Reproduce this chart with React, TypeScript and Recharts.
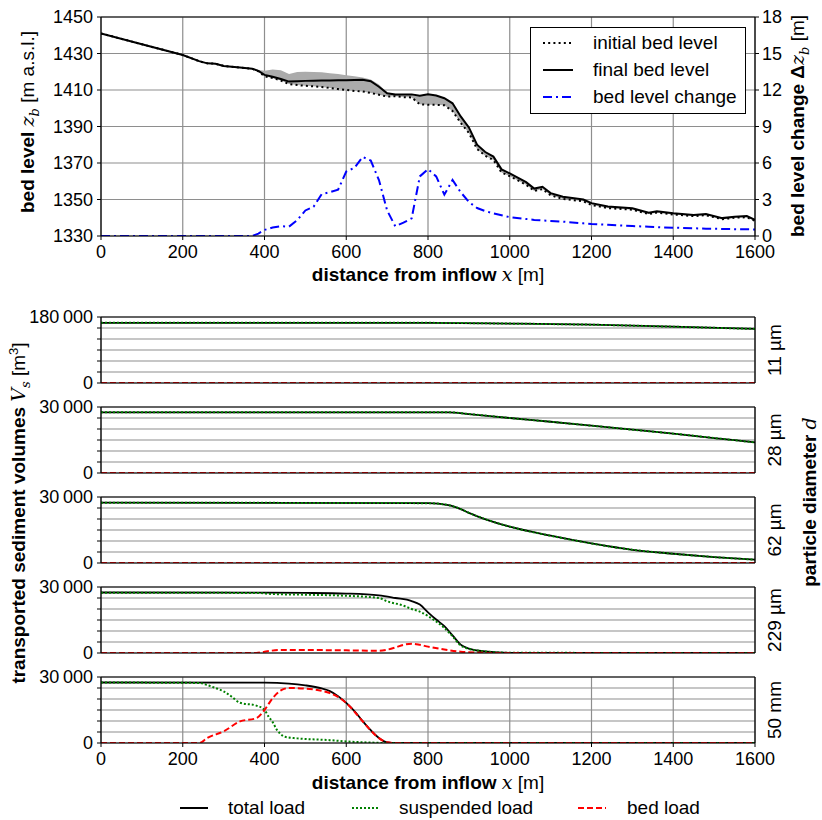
import React from 'react';
import { ComposedChart, Line, Area, XAxis, YAxis, CartesianGrid } from 'recharts';

// ---------- fonts & layout ----------
const SANS = '"Liberation Sans", Arial, Helvetica, sans-serif';
const MATH = '"DejaVu Serif", "Liberation Serif", serif';

const CHART_W = 822;
const PLOT_L = 101;
const PLOT_R = 755;
const Y_AXIS_W = 60;
const X_AXIS_H = 30;
const TOP_AXIS_H = 6;

// ---------- axis ticks ----------
const majorX = [0, 200, 400, 600, 800, 1000, 1200, 1400, 1600];
const minorX = Array.from({ length: 81 }, (_, i) => i * 20);
const bedTicks = [1330, 1350, 1370, 1390, 1410, 1430, 1450];
const changeTicks = [0, 3, 6, 9, 12, 15, 18];

// ---------- longitudinal bed profile ----------
const bedX = [0, 100, 200, 240, 260, 280, 300, 340, 370, 385, 400, 420, 440, 460, 480, 500, 520, 540, 560, 580, 600, 620, 640, 660, 680, 700, 720, 740, 760, 780, 800, 820, 840, 860, 880, 900, 920, 940, 960, 980, 1000, 1040, 1060, 1080, 1100, 1130, 1180, 1200, 1240, 1300, 1340, 1360, 1400, 1450, 1480, 1520, 1550, 1580, 1600];

const initialBed = [1441, 1435.1, 1429.2, 1425.8, 1424.6, 1424.4, 1423.2, 1422.3, 1421.6, 1420.3, 1417.5, 1416.6, 1415.2, 1413.3, 1412.7, 1412.3, 1412.0, 1411.6, 1411.1, 1410.5, 1410.0, 1409.5, 1409.2, 1408.4, 1407.4, 1406.4, 1406.6, 1406.1, 1405.9, 1402.2, 1401.9, 1401.9, 1401.6, 1398.5, 1392.0, 1386.5, 1377.7, 1374.0, 1371.6, 1364.8, 1362.8, 1358.1, 1354.7, 1355.7, 1352.3, 1350.3, 1349.0, 1347.0, 1345.3, 1344.4, 1342.0, 1342.8, 1341.8, 1340.9, 1341.4, 1339.2, 1340.0, 1340.3, 1338.3];

const finalBed = [1441, 1435.1, 1429.2, 1425.8, 1424.6, 1424.4, 1423.2, 1422.3, 1421.6, 1420.5, 1418.3, 1417.3, 1416.0, 1414.6, 1414.8, 1415.0, 1415.1, 1415.2, 1415.2, 1415.3, 1415.4, 1415.5, 1415.6, 1414.8, 1411.8, 1408.2, 1407.5, 1407.6, 1407.6, 1406.9, 1407.6, 1407.0, 1405.5, 1402.7, 1395.5, 1389.5, 1380.0, 1376.0, 1373.5, 1366.5, 1364.3, 1359.5, 1356.0, 1357.0, 1353.5, 1351.5, 1350.0, 1348.0, 1346.2, 1345.2, 1342.8, 1343.5, 1342.5, 1341.5, 1342.0, 1339.8, 1340.6, 1340.9, 1338.8];

// highest bed level reached during the run (upper edge of the grey band)
const peakBed = [1441, 1435.1, 1429.2, 1425.8, 1424.6, 1424.4, 1423.2, 1422.3, 1421.6, 1421.0, 1420.6, 1421.2, 1420.8, 1418.8, 1419.8, 1420.0, 1419.9, 1419.7, 1419.2, 1418.7, 1418.1, 1417.5, 1416.9, 1415.8, 1413.0, 1408.6, 1407.8, 1407.8, 1407.8, 1407.1, 1407.6, 1407.0, 1405.5, 1402.7, 1395.5, 1389.5, 1380.0, 1376.0, 1373.5, 1366.5, 1364.3, 1359.5, 1356.0, 1357.0, 1353.5, 1351.5, 1350.0, 1348.0, 1346.2, 1345.2, 1342.8, 1343.5, 1342.5, 1341.5, 1342.0, 1339.8, 1340.6, 1340.9, 1338.8];

const bedChange = [0, 0, 0, 0, 0, 0, 0, 0, 0, 0.2, 0.5, 0.7, 0.8, 0.77, 1.3, 2.1, 2.4, 3.45, 3.6, 3.8, 5.3, 5.6, 6.5, 6.2, 4.6, 2.1, 0.8, 1.1, 1.45, 4.9, 5.5, 4.9, 3.4, 4.6, 3.6, 2.8, 2.3, 2.05, 1.86, 1.7, 1.55, 1.4, 1.32, 1.28, 1.24, 1.18, 1.04, 0.99, 0.92, 0.82, 0.76, 0.73, 0.68, 0.64, 0.6, 0.58, 0.56, 0.55, 0.54];

// ---------- transported sediment volumes per grain size ----------
// 11 µm
const total11X = [0, 800, 1000, 1200, 1400, 1600];
const total11 = [164000, 164000, 162000, 159000, 153500, 147500];
const susp11X = [0, 800, 1000, 1200, 1400, 1600];
const susp11 = [164000, 164000, 162000, 159000, 153500, 147500];
const bed11X = [0, 1600];
const bed11 = [0, 0];

// 28 µm
const total28X = [0, 850, 900, 1000, 1100, 1200, 1300, 1400, 1500, 1600];
const total28 = [27600, 27600, 26800, 25000, 23300, 21500, 19700, 17900, 15900, 13900];
const susp28X = [0, 850, 900, 1000, 1100, 1200, 1300, 1400, 1500, 1600];
const susp28 = [27600, 27600, 26800, 25000, 23300, 21500, 19700, 17900, 15900, 13900];
const bed28X = [0, 1600];
const bed28 = [0, 0];

// 62 µm
const total62X = [0, 800, 850, 880, 900, 950, 1000, 1100, 1200, 1300, 1400, 1500, 1600];
const total62 = [27400, 27200, 26300, 24500, 22800, 19300, 16500, 12400, 8900, 6000, 4200, 2700, 1500];
const susp62X = [0, 800, 850, 880, 900, 950, 1000, 1100, 1200, 1300, 1400, 1500, 1600];
const susp62 = [27400, 27200, 26300, 24500, 22800, 19300, 16500, 12400, 8900, 6000, 4200, 2700, 1500];
const bed62X = [0, 1600];
const bed62 = [0, 0];

// 229 µm
const total229X = [0, 400, 500, 600, 680, 720, 760, 780, 800, 820, 840, 860, 880, 900, 940, 1000, 1600];
const total229 = [27500, 27400, 27300, 27000, 26200, 25000, 23600, 22000, 18500, 15200, 12200, 8000, 3800, 2000, 700, 100, 0];
const susp229X = [0, 380, 420, 500, 600, 680, 700, 740, 760, 780, 800, 820, 840, 860, 880, 900, 940, 1000, 1600];
const susp229 = [27400, 27300, 26800, 26500, 26000, 25000, 23500, 21500, 20000, 18800, 16800, 14300, 11400, 7600, 3400, 1900, 700, 100, 0];
const bed229X = [0, 380, 400, 440, 600, 680, 700, 720, 740, 760, 780, 800, 840, 880, 920, 960, 1600];
const bed229 = [0, 0, 600, 1400, 1200, 1000, 1500, 2500, 3700, 4200, 3700, 2900, 1600, 600, 150, 0, 0];

// 50 mm
const total50X = [0, 400, 460, 500, 540, 560, 580, 600, 620, 640, 660, 680, 700, 720, 1600];
const total50 = [27500, 27400, 27000, 26200, 24800, 23600, 21300, 18200, 14500, 10000, 5800, 2300, 300, 0, 0];
const susp50X = [0, 240, 260, 280, 300, 320, 340, 380, 400, 410, 420, 430, 440, 450, 480, 560, 600, 660, 700, 1600];
const susp50 = [27500, 27300, 26300, 25000, 23500, 21000, 18300, 17000, 15000, 12000, 9500, 6100, 4000, 2800, 2100, 1300, 700, 200, 0, 0];
const bed50X = [0, 240, 260, 300, 340, 380, 400, 420, 440, 460, 500, 560, 600, 640, 660, 680, 700, 720, 1600];
const bed50 = [0, 0, 2300, 5300, 9800, 11300, 15000, 20400, 23900, 25000, 24700, 22700, 18200, 9900, 5700, 2200, 300, 0, 0];

const panelLabels = ['11 µm', '28 µm', '62 µm', '229 µm', '50 mm'];
const panelMax = [180000, 30000, 30000, 30000, 30000];
const panelTops = [317, 407, 497, 587, 677];
const PANEL_H = 66;

const legendBed = ['initial bed level', 'final bed level', 'bed level change'];
const legendLoad = ['total load', 'suspended load', 'bed load'];

// ---------- styles ----------
const DOTTED = '2 3.2';
const DASHDOT = '9 4 2 4';
const GREEN_DOT = '2 2';
const RED_DASH = '6 3';
const GRID = '#8e8e8e';

const tickFont = { fontFamily: SANS, fontSize: 18, fill: '#000' };

const zip = (xs: number[], ys: number[]) => xs.map((x, i) => ({ x, v: ys[i] }));
const thin = (n: number) => String(n).replace(/\B(?=(\d{3})+(?!\d))/g, '\u2009');

// frame axes along the distance direction: labelled bottom axis, minor ticks, top frame
function distanceAxes(showLabels: boolean) {
  return [
    <XAxis
      key="xb"
      xAxisId="x"
      dataKey="x"
      type="number"
      domain={[0, 1600]}
      allowDataOverflow
      ticks={majorX}
      height={X_AXIS_H}
      tickSize={4}
      tickMargin={5}
      axisLine={{ stroke: '#000', strokeWidth: 1.2 }}
      tickLine={{ stroke: '#000' }}
      tick={showLabels ? tickFont : false}
      interval={0}
    />,
    <XAxis
      key="xbm"
      xAxisId="xbm"
      dataKey="x"
      type="number"
      domain={[0, 1600]}
      allowDataOverflow
      ticks={minorX}
      mirror
      tickSize={2.5}
      axisLine={false}
      tickLine={{ stroke: '#000' }}
      tick={false}
      interval={0}
    />,
    <XAxis
      key="xt"
      xAxisId="xt"
      orientation="top"
      dataKey="x"
      type="number"
      domain={[0, 1600]}
      allowDataOverflow
      ticks={majorX}
      height={TOP_AXIS_H}
      tickSize={4}
      axisLine={{ stroke: '#000', strokeWidth: 1.2 }}
      tickLine={{ stroke: '#000' }}
      tick={false}
      interval={0}
    />,
    <XAxis
      key="xtm"
      xAxisId="xtm"
      orientation="top"
      dataKey="x"
      type="number"
      domain={[0, 1600]}
      allowDataOverflow
      ticks={minorX}
      mirror
      tickSize={2.5}
      axisLine={false}
      tickLine={{ stroke: '#000' }}
      tick={false}
      interval={0}
    />,
  ];
}

function BedLevelChart() {
  const height = 300;
  const data = bedX.map((x, i) => ({
    x,
    initial: initialBed[i],
    final: finalBed[i],
    change: bedChange[i],
    band: [initialBed[i], peakBed[i]],
  }));
  return (
    <ComposedChart
      width={CHART_W}
      height={height}
      data={data}
      margin={{
        top: 17 - TOP_AXIS_H,
        right: CHART_W - PLOT_R - Y_AXIS_W,
        bottom: height - 236 - X_AXIS_H,
        left: PLOT_L - Y_AXIS_W,
      }}
    >
      <CartesianGrid xAxisId="x" yAxisId="left" stroke={GRID} strokeWidth={1.2} />
      {distanceAxes(true)}
      <YAxis
        yAxisId="left"
        type="number"
        domain={[1330, 1450]}
        allowDataOverflow
        ticks={bedTicks}
        width={Y_AXIS_W}
        tickSize={4}
        tickMargin={4}
        axisLine={{ stroke: '#000', strokeWidth: 1.2 }}
        tickLine={{ stroke: '#000' }}
        tick={tickFont}
        interval={0}
      />
      <YAxis
        yAxisId="right"
        orientation="right"
        type="number"
        domain={[0, 18]}
        allowDataOverflow
        ticks={changeTicks}
        width={Y_AXIS_W}
        tickSize={4}
        tickMargin={3}
        axisLine={{ stroke: '#000', strokeWidth: 1.2 }}
        tickLine={{ stroke: '#000' }}
        tick={tickFont}
        interval={0}
      />
      <Area
        xAxisId="x"
        yAxisId="left"
        dataKey="band"
        type="linear"
        fill="#ababab"
        fillOpacity={1}
        stroke="none"
        isAnimationActive={false}
      />
      <Line xAxisId="x" yAxisId="left" dataKey="initial" type="linear" stroke="#000" strokeWidth={2} strokeDasharray={DOTTED} dot={false} isAnimationActive={false} />
      <Line xAxisId="x" yAxisId="left" dataKey="final" type="linear" stroke="#000" strokeWidth={2} dot={false} isAnimationActive={false} />
      <Line xAxisId="x" yAxisId="right" dataKey="change" type="linear" stroke="#0000ff" strokeWidth={2} strokeDasharray={DASHDOT} dot={false} isAnimationActive={false} />
    </ComposedChart>
  );
}

type Series = { total: { x: number }[]; susp: { x: number }[]; bed: { x: number }[] };

const panelSeries: Series[] = [
  { total: zip(total11X, total11), susp: zip(susp11X, susp11), bed: zip(bed11X, bed11) },
  { total: zip(total28X, total28), susp: zip(susp28X, susp28), bed: zip(bed28X, bed28) },
  { total: zip(total62X, total62), susp: zip(susp62X, susp62), bed: zip(bed62X, bed62) },
  { total: zip(total229X, total229), susp: zip(susp229X, susp229), bed: zip(bed229X, bed229) },
  { total: zip(total50X, total50), susp: zip(susp50X, susp50), bed: zip(bed50X, bed50) },
];

const PANEL_PAD = 5;
const PANEL_CHART_H = PANEL_PAD + TOP_AXIS_H + PANEL_H + X_AXIS_H + PANEL_PAD;

function VolumePanel({ index }: { index: number }) {
  const max = panelMax[index];
  const ticks = Array.from({ length: 7 }, (_, i) => (max / 6) * i);
  const s = panelSeries[index];
  const last = index === panelSeries.length - 1;
  return (
    <div style={{ position: 'absolute', left: 0, top: panelTops[index] - PANEL_PAD - TOP_AXIS_H }}>
      <ComposedChart
        width={CHART_W}
        height={PANEL_CHART_H}
        margin={{
          top: PANEL_PAD,
          right: CHART_W - PLOT_R - Y_AXIS_W,
          bottom: PANEL_PAD,
          left: PLOT_L - Y_AXIS_W,
        }}
      >
        <CartesianGrid xAxisId="x" yAxisId="left" stroke={GRID} strokeWidth={1.2} />
        {distanceAxes(last)}
        <YAxis
          yAxisId="left"
          type="number"
          domain={[0, max]}
          allowDataOverflow
          ticks={ticks}
          width={Y_AXIS_W}
          tickSize={4}
          tickMargin={4}
          axisLine={{ stroke: '#000', strokeWidth: 1.2 }}
          tickLine={{ stroke: '#000' }}
          tick={tickFont}
          tickFormatter={(v: number) => (v === 0 ? '0' : v === max ? thin(max) : '')}
          interval={0}
        />
        <YAxis
          yAxisId="right"
          orientation="right"
          type="number"
          domain={[0, max]}
          allowDataOverflow
          ticks={ticks}
          width={Y_AXIS_W}
          tickSize={4}
          axisLine={{ stroke: '#000', strokeWidth: 1.2 }}
          tickLine={{ stroke: '#000' }}
          tick={false}
          interval={0}
        />
        <Line xAxisId="x" yAxisId="left" data={s.total} dataKey="v" type="monotone" stroke="#000" strokeWidth={1.8} dot={false} isAnimationActive={false} />
        <Line xAxisId="x" yAxisId="left" data={s.susp} dataKey="v" type="monotone" stroke="#008000" strokeWidth={2} strokeDasharray={GREEN_DOT} dot={false} isAnimationActive={false} />
        <Line xAxisId="x" yAxisId="left" data={s.bed} dataKey="v" type="monotone" stroke="#ff0000" strokeWidth={2} strokeDasharray={RED_DASH} dot={false} isAnimationActive={false} />
      </ComposedChart>
    </div>
  );
}

const mathStyle: React.CSSProperties = { fontFamily: MATH, fontStyle: 'italic', fontWeight: 400 };
const plain: React.CSSProperties = { fontWeight: 400 };

function Rotated({ x, y, children }: { x: number; y: number; children: React.ReactNode }) {
  return (
    <div
      style={{
        position: 'absolute',
        left: x,
        top: y,
        transform: 'translate(-50%, -50%) rotate(-90deg)',
        whiteSpace: 'nowrap',
        fontFamily: SANS,
        fontSize: 19,
        lineHeight: '20px',
        color: '#000',
      }}
    >
      {children}
    </div>
  );
}

function Centered({ x, y, children }: { x: number; y: number; children: React.ReactNode }) {
  return (
    <div
      style={{
        position: 'absolute',
        left: x,
        top: y,
        transform: 'translate(-50%, -50%)',
        whiteSpace: 'nowrap',
        fontFamily: SANS,
        fontSize: 19,
        lineHeight: '19px',
        color: '#000',
      }}
    >
      {children}
    </div>
  );
}

function BedLegend() {
  const rows = [
    { stroke: '#000', dash: DOTTED },
    { stroke: '#000', dash: undefined },
    { stroke: '#0000ff', dash: DASHDOT },
  ];
  return (
    <div
      style={{
        position: 'absolute',
        left: 530,
        top: 27,
        width: 214,
        height: 85,
        border: '1px solid #000',
        background: '#fff',
        fontFamily: SANS,
        fontSize: 19,
      }}
    >
      <svg width={214} height={85} style={{ position: 'absolute', left: 0, top: 0 }}>
        {rows.map((r, i) => (
          <line key={i} x1={12} x2={42} y1={15 + i * 27} y2={15 + i * 27} stroke={r.stroke} strokeWidth={2} strokeDasharray={r.dash} />
        ))}
      </svg>
      {legendBed.map((t, i) => (
        <div key={t} style={{ position: 'absolute', left: 62, top: 4 + i * 27, lineHeight: '22px', whiteSpace: 'nowrap' }}>
          {t}
        </div>
      ))}
    </div>
  );
}

function LoadLegend() {
  const items = [
    { x: 180, tx: 228, stroke: '#000', dash: undefined },
    { x: 352, tx: 399, stroke: '#008000', dash: GREEN_DOT },
    { x: 578, tx: 627, stroke: '#ff0000', dash: RED_DASH },
  ];
  return (
    <div style={{ position: 'absolute', left: 0, top: 796, width: CHART_W, height: 24, fontFamily: SANS, fontSize: 19 }}>
      <svg width={CHART_W} height={24} style={{ position: 'absolute', left: 0, top: 0 }}>
        {items.map((it, i) => (
          <line key={i} x1={it.x} x2={it.x + 28} y1={12} y2={12} stroke={it.stroke} strokeWidth={2} strokeDasharray={it.dash} />
        ))}
      </svg>
      {items.map((it, i) => (
        <div key={i} style={{ position: 'absolute', left: it.tx, top: 1, lineHeight: '22px', whiteSpace: 'nowrap' }}>
          {legendLoad[i]}
        </div>
      ))}
    </div>
  );
}

export default function App() {
  return (
    <div style={{ position: 'absolute', left: 0, top: 0, width: CHART_W, height: 820, background: '#fff', overflow: 'hidden' }}>
      <div style={{ position: 'absolute', left: 0, top: 0 }}>
        <BedLevelChart />
      </div>
      {panelTops.map((_, i) => (
        <VolumePanel key={i} index={i} />
      ))}

      <BedLegend />
      <LoadLegend />

      {/* axis titles of the bed profile */}
      <Rotated x={31} y={122}>
        <b>bed level </b>
        <span style={mathStyle}>
          z<sub style={{ fontSize: 13 }}>b</sub>
        </span>
        <span style={plain}> [m a.s.l.]</span>
      </Rotated>
      <Rotated x={801} y={126}>
        <b>bed level change Δ</b>
        <span style={mathStyle}>
          z<sub style={{ fontSize: 13 }}>b</sub>
        </span>
        <span style={plain}> [m]</span>
      </Rotated>
      <Centered x={428} y={274}>
        <b>distance from inflow </b>
        <span style={mathStyle}>x</span>
        <span style={plain}> [m]</span>
      </Centered>

      {/* axis titles of the sediment panels */}
      <Rotated x={20} y={513}>
        <b>transported sediment volumes </b>
        <span style={mathStyle}>
          V<sub style={{ fontSize: 13 }}>s</sub>
        </span>
        <span style={plain}>
          {' '}[m<sup style={{ fontSize: 13 }}>3</sup>]
        </span>
      </Rotated>
      <Rotated x={809} y={502}>
        <b>particle diameter </b>
        <span style={mathStyle}>d</span>
      </Rotated>
      {panelLabels.map((t, i) => (
        <Rotated key={t} x={775} y={panelTops[i] + PANEL_H / 2}>
          {t}
        </Rotated>
      ))}
      <Centered x={428} y={782}>
        <b>distance from inflow </b>
        <span style={mathStyle}>x</span>
        <span style={plain}> [m]</span>
      </Centered>
    </div>
  );
}
